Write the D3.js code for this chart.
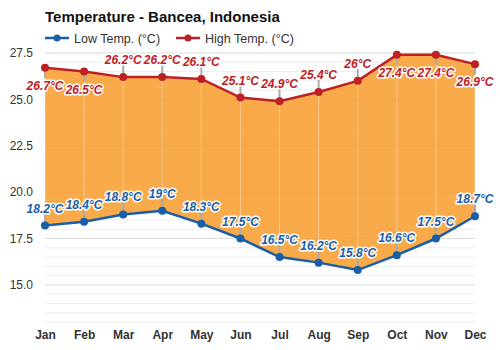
<!DOCTYPE html>
<html><head><meta charset="utf-8">
<script src="https://cdn.jsdelivr.net/npm/d3@7"></script>
<style>body{margin:0;background:#fff;font-family:"Liberation Sans",Arial,sans-serif}</style>
</head><body><svg id="c" width="500" height="350"></svg>
<script>
const months = ["Jan","Feb","Mar","Apr","May","Jun","Jul","Aug","Sep","Oct","Nov","Dec"];
const lowTemps = [18.2,18.4,18.8,19,18.3,17.5,16.5,16.2,15.8,16.6,17.5,18.7];
const highTemps = [26.7,26.5,26.2,26.2,26.1,25.1,24.9,25.4,26,27.4,27.4,26.9];
const highLabelBelow = [true,true,false,false,false,false,false,false,false,true,true,true];
const yTicks = [15.0,17.5,20.0,22.5,25.0,27.5];

const svg = d3.select("#c");
const x = d3.scalePoint().domain(months).range([45,475]);
const y = d3.scaleLinear().domain([13,27.5]).range([322,53]);
const blue = "#1a5ea8", red = "#bd2025";

// minor gridlines
const minor = d3.range(13,27.51,0.5);
svg.append("g").selectAll("line").data(minor).join("line")
  .attr("x1",45).attr("x2",475).attr("y1",d=>y(d)).attr("y2",d=>y(d))
  .attr("stroke",d=>yTicks.some(t=>Math.abs(t-d)<1e-6)?"#dcdcdc":"#eeeeee").attr("stroke-width",1);

// y axis labels
const yAxis = d3.axisLeft(y).tickValues(yTicks).tickFormat(d3.format(".1f")).tickSize(0).tickPadding(12);
const ya = svg.append("g").attr("transform","translate(45,0)").call(yAxis);
ya.select(".domain").remove();
ya.selectAll("text").attr("font-size",12).attr("fill","#333").attr("font-family","Liberation Sans, Arial");

// x axis labels
const xAxis = d3.axisBottom(x).tickSize(0).tickPadding(0);
const xa = svg.append("g").attr("transform","translate(0,330)").call(xAxis);
xa.select(".domain").remove();
xa.selectAll("text").attr("font-size",12).attr("font-weight","bold").attr("fill","#333").attr("font-family","Liberation Sans, Arial");

// area
const data = months.map((m,i)=>({m,lo:lowTemps[i],hi:highTemps[i]}));
const area = d3.area().x(d=>x(d.m)).y0(d=>y(d.lo)).y1(d=>y(d.hi));
svg.append("path").datum(data).attr("d",area).attr("fill","#f89c2c").attr("fill-opacity",0.85);
svg.append("clipPath").attr("id","ac").append("path").datum(data).attr("d",area);
svg.append("g").attr("clip-path","url(#ac)").selectAll("line").data(months).join("line")
  .attr("x1",d=>x(d)).attr("x2",d=>x(d)).attr("y1",53).attr("y2",322)
  .attr("stroke","#fff").attr("stroke-opacity",0.35);

// leader lines
function leaders(vals, below){
  svg.append("g").selectAll("line").data(vals).join("line")
    .attr("x1",(d,i)=>x(months[i])).attr("x2",(d,i)=>x(months[i]))
    .attr("y1",d=>y(d)).attr("y2",(d,i)=>y(d)+(below[i]?10:-12))
    .attr("stroke","#aaa").attr("stroke-width",2);
}
leaders(highTemps, highLabelBelow);
leaders(lowTemps, lowTemps.map(()=>false));

// lines
const line = v => d3.line().x((d,i)=>x(months[i])).y(d=>y(d))(v);
svg.append("path").attr("d",line(highTemps)).attr("fill","none").attr("stroke",red).attr("stroke-width",2.5);
svg.append("path").attr("d",line(lowTemps)).attr("fill","none").attr("stroke",blue).attr("stroke-width",2.5);
svg.append("g").selectAll("circle").data(highTemps).join("circle")
  .attr("cx",(d,i)=>x(months[i])).attr("cy",d=>y(d)).attr("r",4).attr("fill",red);
svg.append("g").selectAll("circle").data(lowTemps).join("circle")
  .attr("cx",(d,i)=>x(months[i])).attr("cy",d=>y(d)).attr("r",4).attr("fill",blue);

// data labels
function labels(vals, below, color){
  const g = svg.append("g");
  vals.forEach((v,i)=>{
    const t = v + "°C";
    const yy = y(v) + (below[i]?22:-13);
    const attrs = s=>s.attr("x",x(months[i])).attr("y",yy).attr("text-anchor","middle")
      .attr("font-size",12).attr("font-weight","bold").attr("font-style","italic")
      .attr("font-family","Liberation Sans, Arial").text(t);
    attrs(g.append("text")).attr("fill","none").attr("stroke","#fff").attr("stroke-width",3).attr("stroke-linejoin","round");
    attrs(g.append("text")).attr("fill",color);
  });
}
labels(highTemps, highLabelBelow, red);
labels(lowTemps, lowTemps.map(()=>false), blue);

// title
svg.append("text").attr("x",45).attr("y",22).attr("font-size",15).attr("font-weight","bold")
  .attr("fill","#111").text("Temperature - Bancea, Indonesia");

// legend
function legend(x0, color, label){
  svg.append("line").attr("x1",x0).attr("x2",x0+24).attr("y1",38).attr("y2",38).attr("stroke",color).attr("stroke-width",2.5);
  svg.append("circle").attr("cx",x0+12).attr("cy",38).attr("r",3.5).attr("fill",color);
  svg.append("text").attr("x",x0+29).attr("y",42.5).attr("font-size",12.5).attr("fill","#333").text(label);
}
legend(45, blue, "Low Temp. (°C)");
legend(176, red, "High Temp. (°C)");
</script></body></html>
